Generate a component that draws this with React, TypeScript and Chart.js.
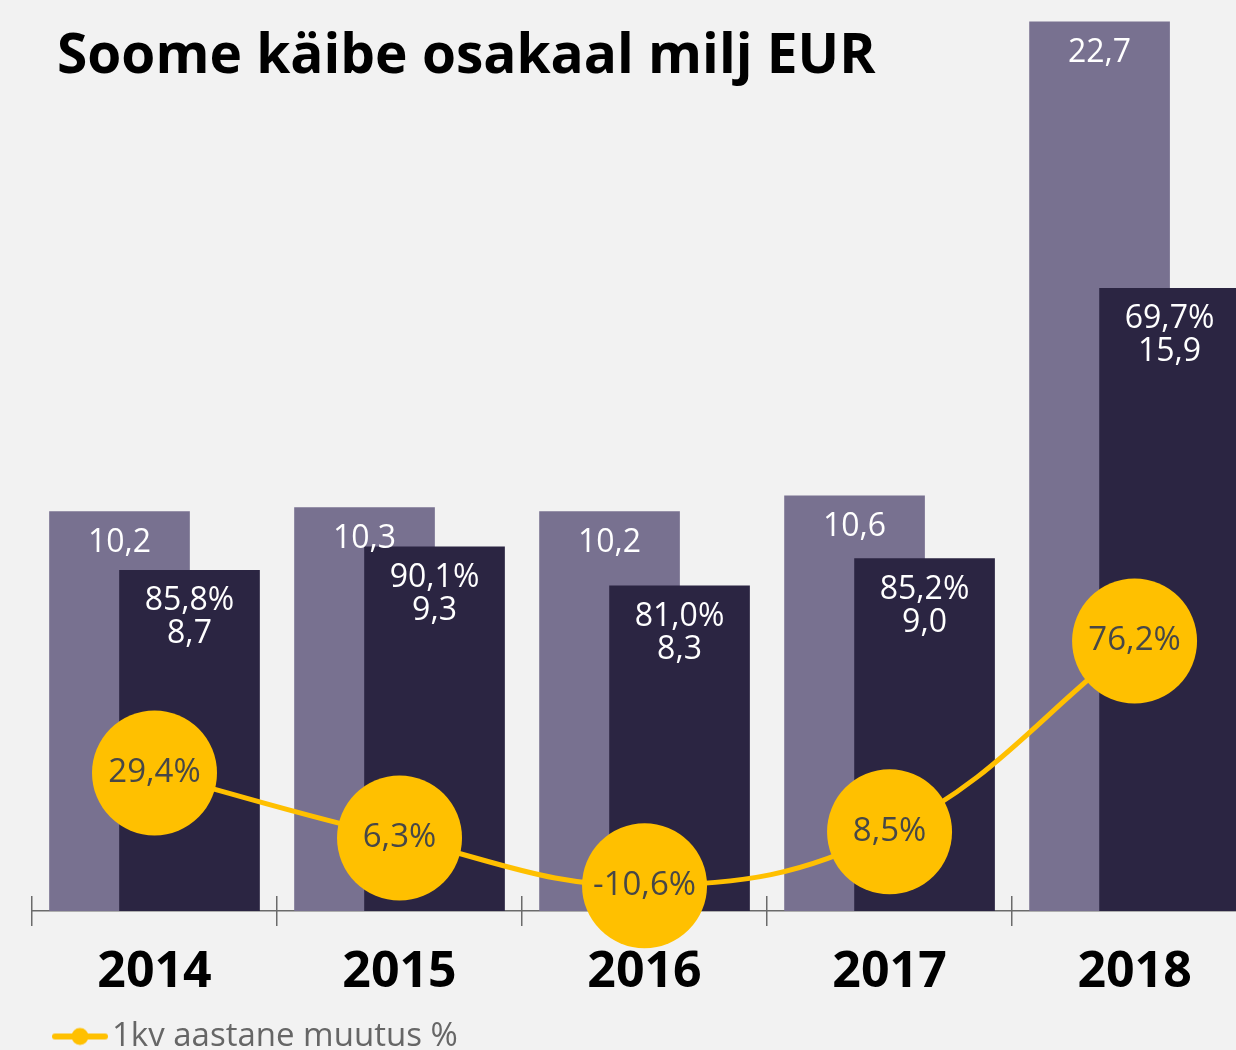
import React, { useEffect, useRef } from 'react';
import { Chart, registerables } from 'chart.js';

Chart.register(...registerables);

// ---------- data ----------
const TITLE = 'Soome käibe osakaal milj EUR';
const LEGEND_LABEL = '1kv aastane muutus %';
const years = ['2014', '2015', '2016', '2017', '2018'];
const totalTurnover = [10.2, 10.3, 10.2, 10.6, 22.7];
const finlandTurnover = [8.7, 9.3, 8.3, 9.0, 15.9];
const finlandShare = [85.8, 90.1, 81.0, 85.2, 69.7];
const yearlyChange = [29.4, 6.3, -10.6, 8.5, 76.2];

// ---------- styles ----------
const FONT = '"Open Sans", sans-serif';
const LIGHT = '#787190';
const DARK = '#2b2542';
const YELLOW = '#ffc000';
const AXIS = '#6b6b6b';
const BG = '#f2f2f2';
const W = 1236;
const H = 1063;
const X_MIN = -0.5;
const X_MAX = 4.414;
const SHIFT = 1 / 7; // the two bars of a year overlap by half

const fmt = (v: number) => v.toFixed(1).replace('.', ',');

const titlePlugin = {
  id: 'fixedTitle',
  afterDraw(chart: any) {
    const ctx = chart.ctx;
    ctx.save();
    ctx.font = `700 55px ${FONT}`;
    ctx.fillStyle = '#000';
    ctx.textAlign = 'left';
    ctx.textBaseline = 'alphabetic';
    ctx.fillText(TITLE, 57, 73);
    ctx.restore();
  },
};

const labelPlugin = {
  id: 'valueLabels',
  afterDatasetsDraw(chart: any) {
    const ctx = chart.ctx;
    const line = chart.getDatasetMeta(0);
    const dark = chart.getDatasetMeta(1);
    const light = chart.getDatasetMeta(2);
    ctx.save();
    ctx.textAlign = 'center';
    ctx.textBaseline = 'middle';
    ctx.font = `400 32px ${FONT}`;
    ctx.fillStyle = '#ffffff';
    light.data.forEach((el: any, i: number) => {
      ctx.fillText(fmt(totalTurnover[i]), el.x, el.y + 31);
    });
    dark.data.forEach((el: any, i: number) => {
      ctx.fillText(fmt(finlandShare[i]) + '%', el.x, el.y + 31);
      ctx.fillText(fmt(finlandTurnover[i]), el.x, el.y + 64);
    });
    ctx.font = `400 33px ${FONT}`;
    ctx.fillStyle = '#474747';
    line.data.forEach((el: any, i: number) => {
      ctx.fillText(fmt(yearlyChange[i]) + '%', el.x, el.y);
    });
    ctx.restore();
  },
};

// legend symbol: a line with a dot
function makeMarker(): HTMLCanvasElement {
  const c = document.createElement('canvas');
  c.width = 60;
  c.height = 20;
  const g = c.getContext('2d')!;
  g.strokeStyle = YELLOW;
  g.lineWidth = 6;
  g.lineCap = 'round';
  g.beginPath();
  g.moveTo(5, 10);
  g.lineTo(55, 10);
  g.stroke();
  g.fillStyle = YELLOW;
  g.beginPath();
  g.arc(30, 10, 8.5, 0, Math.PI * 2);
  g.fill();
  return c;
}

export default function App() {
  const ref = useRef<HTMLCanvasElement>(null);

  useEffect(() => {
    if (!ref.current) return;
    const marker = makeMarker();
    const hiddenX = (shift: number) => ({
      type: 'linear',
      axis: 'x',
      display: false,
      offset: false,
      min: X_MIN + shift,
      max: X_MAX + shift,
      afterBuildTicks: (s: any) => {
        s.ticks = years.map((_, i) => ({ value: i }));
      },
    });
    const chart = new Chart(ref.current, {
      type: 'bar',
      data: {
        datasets: [
          {
            type: 'line',
            label: LEGEND_LABEL,
            data: yearlyChange.map((v, i) => ({ x: i, y: v })),
            xAxisID: 'x',
            yAxisID: 'y2',
            order: 0,
            borderColor: YELLOW,
            backgroundColor: YELLOW,
            borderWidth: 5,
            tension: 0.4,
            pointRadius: 62.5,
            pointHoverRadius: 62.5,
            pointBackgroundColor: YELLOW,
            pointBorderWidth: 0,
            clip: false,
          } as any,
          {
            type: 'bar',
            label: 'Soome',
            data: finlandTurnover.map((v, i) => ({ x: i, y: v })),
            xAxisID: 'xd',
            yAxisID: 'y',
            order: 1,
            backgroundColor: DARK,
            grouped: false,
            barThickness: 140,
            maxBarThickness: 140,
          },
          {
            type: 'bar',
            label: 'Kokku',
            data: totalTurnover.map((v, i) => ({ x: i, y: v })),
            xAxisID: 'xl',
            yAxisID: 'y',
            order: 2,
            backgroundColor: LIGHT,
            grouped: false,
            barThickness: 140,
            maxBarThickness: 140,
          },
        ],
      },
      options: {
        animation: false,
        responsive: false,
        devicePixelRatio: 1,
        events: [],
        layout: { autoPadding: false, padding: { top: 18, left: 32, right: 0, bottom: 0 } },
        font: { family: FONT },
        scales: {
          x: {
            type: 'linear',
            position: 'bottom',
            offset: false,
            bounds: 'data',
            min: X_MIN,
            max: X_MAX,
            afterBuildTicks: (s: any) => {
              s.ticks = years.map((_, i) => ({ value: i }));
            },
            afterFit: (s: any) => {
              s.height = 76.5;
            },
            ticks: {
              callback: (v: any) => years[Math.round(Number(v))] ?? '',
              font: { family: FONT, size: 50, weight: 'bold', lineHeight: 0.74 },
              color: '#000',
              padding: 43,
              maxRotation: 0,
              autoSkip: false,
            },
            grid: { display: true, drawOnChartArea: false, drawTicks: false, offset: false },
            border: { display: true, color: AXIS, width: 1.5 },
          },
          xt: {
            type: 'linear',
            axis: 'x',
            position: { y: 0.383 },
            offset: false,
            bounds: 'data',
            min: X_MIN,
            max: X_MAX,
            afterBuildTicks: (s: any) => {
              s.ticks = years.map((_, i) => ({ value: i - 0.5 }));
            },
            ticks: { display: false },
            grid: {
              display: true,
              drawOnChartArea: false,
              drawTicks: true,
              tickLength: 30,
              color: AXIS,
              lineWidth: 1.5,
              offset: false,
            },
            border: { display: false },
          },
          xl: hiddenX(SHIFT),
          xd: hiddenX(-SHIFT),
          y: { type: 'linear', display: false, min: 0, max: 22.8 },
          y2: { type: 'linear', display: false, min: -19.6, max: 297.3 },
        } as any,
        plugins: {
          title: { display: false },
          tooltip: { enabled: false },
          legend: {
            display: true,
            position: 'bottom',
            align: 'start',
            labels: {
              filter: (item: any) => item.datasetIndex === 0,
              usePointStyle: true,
              pointStyle: marker as any,
              pointStyleWidth: 31,
              padding: 32.5,
              color: '#666666',
              font: { family: FONT, size: 33 },
            },
          },
        },
      } as any,
      plugins: [titlePlugin, labelPlugin],
    });
    return () => chart.destroy();
  }, []);

  return (
    <div
      style={{
        position: 'fixed',
        left: 0,
        top: 0,
        width: W,
        height: 1050,
        overflow: 'hidden',
        background: BG,
      }}
    >
      <canvas ref={ref} width={W} height={H} style={{ display: 'block', width: W, height: H }} />
    </div>
  );
}
